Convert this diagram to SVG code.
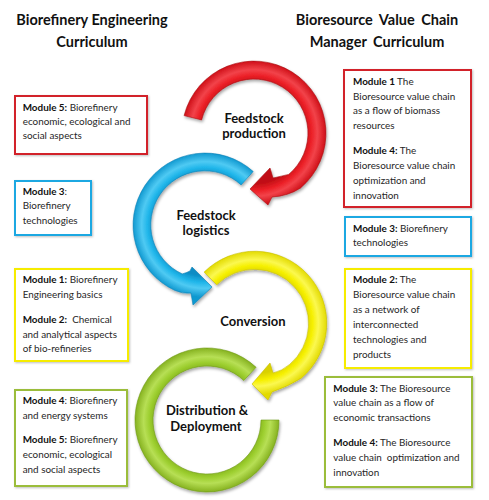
<svg xmlns="http://www.w3.org/2000/svg" width="489" height="500" viewBox="0 0 489 500">
<defs>
<filter id="sh" x="-20%" y="-20%" width="140%" height="140%">
<feDropShadow dx="1" dy="2" stdDeviation="1.5" flood-color="#000" flood-opacity="0.35"/>
</filter>
<filter id="bsh" x="-10%" y="-10%" width="120%" height="120%">
<feDropShadow dx="1" dy="1" stdDeviation="1" flood-color="#000" flood-opacity="0.25"/>
</filter>
<radialGradient id="gRed" gradientUnits="userSpaceOnUse" cx="254" cy="133" r="72">
<stop offset="0.7" stop-color="#c00e15"/><stop offset="0.8" stop-color="#ec2027"/><stop offset="0.88" stop-color="#f2434a"/><stop offset="1" stop-color="#cf1018"/>
</radialGradient>
<radialGradient id="gBlue" gradientUnits="userSpaceOnUse" cx="205" cy="225" r="72">
<stop offset="0.7" stop-color="#0b8cc4"/><stop offset="0.8" stop-color="#20b6ea"/><stop offset="0.88" stop-color="#4fcaf3"/><stop offset="1" stop-color="#1199d0"/>
</radialGradient>
<radialGradient id="gYellow" gradientUnits="userSpaceOnUse" cx="255" cy="323" r="72">
<stop offset="0.7" stop-color="#d9d000"/><stop offset="0.8" stop-color="#f6f000"/><stop offset="0.88" stop-color="#fbf850"/><stop offset="1" stop-color="#e2da00"/>
</radialGradient>
<radialGradient id="gGreen" gradientUnits="userSpaceOnUse" cx="207" cy="420" r="72">
<stop offset="0.7" stop-color="#7eaa1c"/><stop offset="0.8" stop-color="#9cce2e"/><stop offset="0.88" stop-color="#b7df55"/><stop offset="1" stop-color="#86b220"/>
</radialGradient>
</defs>
<style>
.title{font-family:Lato,"Liberation Sans",sans-serif;font-weight:bold;font-size:14.5px;fill:#111;text-anchor:middle;white-space:pre}
.lbl{font-family:Lato,"Liberation Sans",sans-serif;font-weight:bold;font-size:13px;fill:#111;text-anchor:middle}
.t{font-family:Lato,"Liberation Sans",sans-serif;font-size:9.9px;fill:#262626;white-space:pre}
.t .b{font-weight:bold;fill:#111}
.box{fill:#fff;stroke-width:2;filter:url(#bsh)}
.red{stroke:#d2222b}.blue{stroke:#1ca8e2}.yellow{stroke:#f6ec00}.green{stroke:#9bbd3b}
.arr{filter:url(#sh);stroke-width:0.6}
</style>
<rect width="489" height="500" fill="#fff"/>

<g id="title-left">
<text class="title" x="92" y="25">Biorefinery Engineering</text>
<text class="title" x="92" y="46.5">Curriculum</text>
</g>
<g id="title-right">
<text class="title" x="377" y="25" word-spacing="3">Bioresource Value Chain</text>
<text class="title" x="377" y="46.5" word-spacing="3">Manager Curriculum</text>
</g>

<g id="connectors">
<path id="arrow-red" class="arr" fill="url(#gRed)" stroke="#a80b11" d="M184.1,115.6 A72,72 0 1 1 300.3,188.2 Q288,196 272,197 L268,205 L250,189 L270,168 L273,178 Q282,176 288.7,174.4 A54,54 0 1 0 201.6,119.9 Z"/>
<path id="arrow-green" class="arr" fill="url(#gGreen)" stroke="#6f9a16" d="M256.1,367.3 A72,72 0 1 0 279,420 L261,420 A54,54 0 1 1 243.8,380.5 Z"/>
<path id="arrow-yellow" class="arr" fill="url(#gYellow)" stroke="#c8bf00" d="M204.1,272.1 A72,72 0 1 1 301.3,378.2 Q289,386 272,392 L268,400 L252,384 L270,363 L273,373 Q282,371 289.7,364.4 A54,54 0 1 0 216.8,284.8 Z"/>
<path id="arrow-blue" class="arr" fill="url(#gBlue)" stroke="#0a80b6" d="M253.2,171.5 A72,72 0 1 0 174.6,290.3 Q182,294 191,293 L193,305 L212,287 L192,267 L190,271 Q186,273 182.2,273.9 A54,54 0 1 1 241.1,184.9 Z"/>
</g>

<g id="stage-production"><text class="lbl" x="254" y="122.7">Feedstock</text><text class="lbl" x="254" y="138">production</text></g>
<g id="stage-logistics"><text class="lbl" x="206" y="220">Feedstock</text><text class="lbl" x="206" y="234.5">logistics</text></g>
<g id="stage-conversion"><text class="lbl" x="253" y="326">Conversion</text></g>
<g id="stage-distribution"><text class="lbl" x="207" y="415">Distribution &amp;</text><text class="lbl" x="206" y="430.7">Deployment</text></g>

<g id="box-left-1">
<rect class="box red" x="15" y="96" width="132" height="58"/>
<text class="t" x="22.7" y="110.6"><tspan class="b">Module 5:</tspan> Biorefinery</text>
<text class="t" x="22.7" y="125">economic, ecological and</text>
<text class="t" x="22.7" y="139.4">social aspects</text>
</g>
<g id="box-left-2">
<rect class="box blue" x="15" y="181" width="76" height="54"/>
<text class="t" x="22.7" y="195"><tspan class="b">Module 3</tspan>:</text>
<text class="t" x="22.7" y="209.3">Biorefinery</text>
<text class="t" x="22.7" y="223.5">technologies</text>
</g>
<g id="box-left-3">
<rect class="box yellow" x="15" y="269" width="113" height="92"/>
<text class="t" x="22.7" y="283.3"><tspan class="b">Module 1:</tspan> Biorefinery</text>
<text class="t" x="22.7" y="298.3">Engineering basics</text>
<text class="t" x="22.7" y="323.3"><tspan class="b">Module 2:</tspan>  Chemical</text>
<text class="t" x="22.7" y="337.7">and analytical aspects</text>
<text class="t" x="22.7" y="351.9">of bio-refineries</text>
</g>
<g id="box-left-4">
<rect class="box green" x="15" y="390" width="112" height="96"/>
<text class="t" x="22.7" y="404"><tspan class="b">Module 4</tspan>: Biorefinery</text>
<text class="t" x="22.7" y="419">and energy systems</text>
<text class="t" x="22.7" y="443.3"><tspan class="b">Module 5:</tspan> Biorefinery</text>
<text class="t" x="22.7" y="458.3">economic, ecological</text>
<text class="t" x="22.7" y="472.7">and social aspects</text>
</g>

<g id="box-right-1">
<rect class="box red" x="344" y="70" width="127" height="137"/>
<text class="t" x="353" y="84.5"><tspan class="b">Module 1</tspan> The</text>
<text class="t" x="353" y="99.5">Bioresource value chain</text>
<text class="t" x="353" y="114.3">as a flow of biomass</text>
<text class="t" x="353" y="129.3">resources</text>
<text class="t" x="353" y="154"><tspan class="b">Module 4:</tspan> The</text>
<text class="t" x="353" y="169">Bioresource value chain</text>
<text class="t" x="353" y="184">optimization and</text>
<text class="t" x="353" y="198.7">innovation</text>
</g>
<g id="box-right-2">
<rect class="box blue" x="345" y="217" width="126" height="39"/>
<text class="t" x="353" y="231.7"><tspan class="b">Module 3:</tspan> Biorefinery</text>
<text class="t" x="353" y="246">technologies</text>
</g>
<g id="box-right-3">
<rect class="box yellow" x="345" y="269" width="126" height="99"/>
<text class="t" x="353" y="283.3"><tspan class="b">Module 2:</tspan> The</text>
<text class="t" x="353" y="298.3">Bioresource value chain</text>
<text class="t" x="353" y="313.3">as a network of</text>
<text class="t" x="353" y="327.7">interconnected</text>
<text class="t" x="353" y="343.3">technologies and</text>
<text class="t" x="353" y="358.3">products</text>
</g>
<g id="box-right-4">
<rect class="box green" x="325" y="377" width="147" height="110"/>
<text class="t" x="333.3" y="391.7"><tspan class="b">Module 3:</tspan> The Bioresource</text>
<text class="t" x="333.3" y="406">value chain as a flow of</text>
<text class="t" x="333.3" y="420.7">economic transactions</text>
<text class="t" x="333.3" y="446"><tspan class="b">Module 4:</tspan> The Bioresource</text>
<text class="t" x="333.3" y="461">value chain  optimization and</text>
<text class="t" x="333.3" y="475.7">innovation</text>
</g>
</svg>
